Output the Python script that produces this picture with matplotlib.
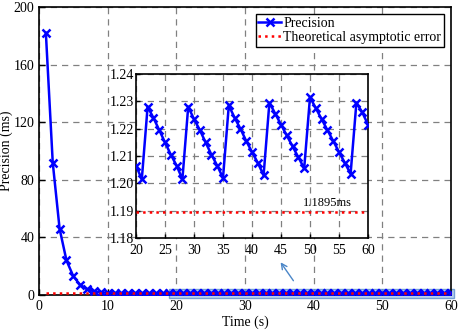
import numpy as np
import matplotlib.pyplot as plt
from matplotlib.patches import Rectangle

plt.rcParams['font.family'] = ['Liberation Serif', 'DejaVu Serif']
plt.rcParams['font.size'] = 10

# settling phase, t = 1..19 s
t_head = [1, 2, 3, 4, 5, 6, 7, 8, 9, 10, 11, 12, 13, 14, 15, 16, 17, 18, 19]
p_head = [182, 92, 46, 24, 13, 7, 4, 2.5, 1.8, 1.5, 1.35, 1.3, 1.27, 1.25, 1.24,
          1.23, 1.22, 1.215, 1.21]

# steady state, t = 20..60 s
t_tail = list(range(20, 61))
p_tail = [1.2065, 1.2015, 1.2280, 1.2240, 1.2195, 1.2150, 1.2105, 1.2065, 1.2015,
          1.2280, 1.2235, 1.2195, 1.2150, 1.2105, 1.2065, 1.2020,
          1.2285, 1.2240, 1.2200, 1.2155, 1.2115, 1.2075, 1.2030,
          1.2295, 1.2255, 1.2215, 1.2175, 1.2135, 1.2095, 1.2055,
          1.2315, 1.2275, 1.2235, 1.2195, 1.2155, 1.2115, 1.2075, 1.2035,
          1.2295, 1.2260, 1.2215]

asym_err = 1.1895

t_all = t_head + t_tail
p_all = p_head + p_tail

fig = plt.figure(figsize=(4.58, 3.32), dpi=100)
ax = fig.add_axes([39 / 458, 1 - 295 / 332, 412 / 458, 288 / 332])

grid_kw = dict(color='#808080', linestyle=(0, (5, 4)), linewidth=0.9)

ax.plot(t_all, p_all, color='#0000ff', marker='x', markersize=6, markeredgewidth=1.8,
        linewidth=1.8, label='Precision', zorder=3)
ax.plot([1, 60], [asym_err, asym_err], color='red', linestyle=':', linewidth=1.8,
        label='Theoretical asymptotic error', zorder=4)
ax.add_patch(Rectangle((19, -2), 41.5, 6, facecolor='#a8c4ec', edgecolor='#5a8fd0',
                       alpha=0.8, linewidth=1, zorder=2, clip_on=False))

ax.set_xlim(0, 60)
ax.set_ylim(0, 200)
ax.set_xticks([0, 10, 20, 30, 40, 50, 60])
ax.set_yticks([0, 40, 80, 120, 160, 200])
ax.grid(True, **grid_kw)
ax.tick_params(direction='in', length=4, width=1)
for s in ax.spines.values():
    s.set_linewidth(1.2)
ax.set_xlabel('Time (s)', labelpad=2)
ax.set_ylabel('Precision (ms)')
ax.yaxis.set_label_coords(-0.064, 0.5)

leg = ax.legend(loc='upper right', fancybox=False, edgecolor='black', framealpha=1,
                borderpad=0.2, labelspacing=0.1, handlelength=1.6, handletextpad=0.2,
                borderaxespad=0.5)
leg.get_frame().set_linewidth(1.0)

ax.annotate('', xy=(279 / 458, 1 - 260 / 332), xycoords='figure fraction',
            xytext=(295 / 458, 1 - 283 / 332), textcoords='figure fraction',
            arrowprops=dict(arrowstyle='->', color='#4a86c8', linewidth=1.0))

# inset
axi = fig.add_axes([136 / 458, 1 - 238 / 332, 232 / 458, 164 / 332])
axi.plot(t_tail, p_tail, color='#0000ff', marker='x', markersize=6, markeredgewidth=1.8,
         linewidth=1.8, zorder=3)
axi.plot([20, 60], [asym_err, asym_err], color='red', linestyle=':', linewidth=1.8, zorder=3)
axi.text(53, 1.1905, '1.1895ms', ha='center', va='bottom', fontsize=9)
axi.set_xlim(20, 60)
axi.set_ylim(1.18, 1.24)
axi.set_xticks([20, 25, 30, 35, 40, 45, 50, 55, 60])
axi.set_yticks([1.18, 1.19, 1.20, 1.21, 1.22, 1.23, 1.24])
axi.set_yticklabels(['1.18', '1.19', '1.20', '1.21', '1.22', '1.23', '1.24'])
axi.grid(True, **grid_kw)
axi.tick_params(direction='in', length=3, width=1)
axi.tick_params(axis='y', pad=1.5)
axi.tick_params(axis='x', pad=4)
for s in axi.spines.values():
    s.set_linewidth(1.2)

fig.savefig('out.png', dpi=100)
